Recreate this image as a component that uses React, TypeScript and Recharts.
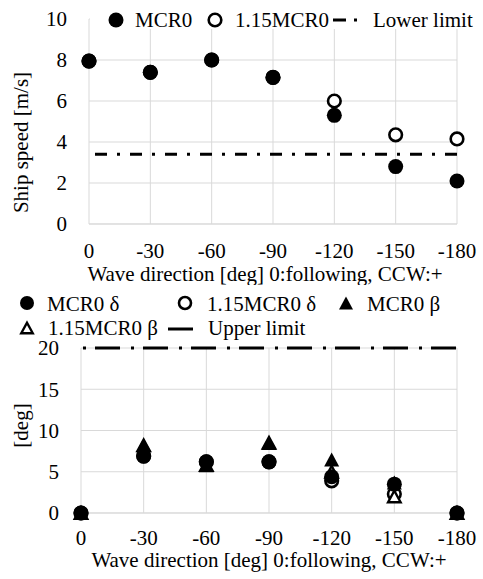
import React from "react";
import { ScatterChart, Scatter, XAxis, YAxis, CartesianGrid, ReferenceLine, Legend } from "recharts";

// wave directions (deg), shared by both panels
const directions = [0, -30, -60, -90, -120, -150, -180];

// ship speed [m/s]
const speedMcr0 = [7.95, 7.4, 8.0, 7.15, 5.3, 2.8, 2.1];
const speedMcr115 = [7.95, 7.4, 8.0, 7.15, 6.0, 4.35, 4.15];
const lowerLimit = 3.4;
const speedTicks = [0, 2, 4, 6, 8, 10];

// rudder angle delta / drift angle beta [deg]
const deltaMcr0 = [0, 6.9, 6.2, 6.2, 4.4, 3.5, 0];
const deltaMcr115 = [0, 6.9, 6.2, 6.2, 3.9, 2.3, 0];
const betaMcr0 = [0, 8.2, 5.8, 8.5, 6.5, 3.7, 0];
const betaMcr115 = [0, 8.2, 5.8, 8.5, 5.0, 2.0, 0];
const upperLimit = 20;
const angleTicks = [0, 5, 10, 15, 20];

const xTitle = "Wave direction [deg] 0:following, CCW:+";

const FONT = "Liberation Serif, Times New Roman, serif";
const GRID = "#d9d9d9";
const textStyle = { fill: "#000", fontSize: 21, fontFamily: FONT };

const speedData = directions.map((dir, i) => ({ dir, mcr0: speedMcr0[i], mcr115: speedMcr115[i] }));
const angleData = directions.map((dir, i) => ({
  dir,
  dMcr0: deltaMcr0[i],
  dMcr115: deltaMcr115[i],
  bMcr0: betaMcr0[i],
  bMcr115: betaMcr115[i],
}));

const FilledCircle = (p: any) => <circle cx={p.cx} cy={p.cy} r={7.5} fill="#000" />;
const OpenCircle = (p: any) => <circle cx={p.cx} cy={p.cy} r={6.3} fill="#fff" stroke="#000" strokeWidth={2.6} />;
const triPoints = (cx: number, cy: number, w: number, h: number) =>
  `${cx},${cy - h / 2} ${cx + w / 2},${cy + h / 2} ${cx - w / 2},${cy + h / 2}`;
const FilledTriangle = (p: any) => <polygon points={triPoints(p.cx, p.cy, 15, 14)} fill="#000" />;
const OpenTriangle = (p: any) => (
  <polygon points={triPoints(p.cx, p.cy, 12.5, 11.5)} fill="#fff" stroke="#000" strokeWidth={2.4} />
);

const legendText = { fontSize: 21, fontFamily: FONT, fill: "#000" };

// legend sits over the top of the plot on a white box, like the original
const SpeedLegend = () => (
  <svg width={393} height={34} style={{ display: "block", overflow: "visible" }}>
    <rect width={393} height={29} fill="#fff" />
    <circle cx={26} cy={20} r={7.5} fill="#000" />
    <text x={45} y={27} {...legendText}>MCR0</text>
    <circle cx={125} cy={20} r={6.3} fill="#fff" stroke="#000" strokeWidth={2.6} />
    <text x={145} y={27} {...legendText}>1.15MCR0</text>
    <line x1={243} x2={270} y1={20} y2={20} stroke="#000" strokeWidth={3} strokeDasharray="13 8 3 10" />
    <text x={283} y={27} {...legendText}>Lower limit</text>
  </svg>
);

const AngleLegend = () => (
  <svg width={483} height={58} style={{ display: "block", overflow: "visible" }}>
    <circle cx={27} cy={18} r={7} fill="#000" />
    <text x={47} y={26} {...legendText}>MCR0 δ</text>
    <circle cx={185} cy={18} r={6} fill="#fff" stroke="#000" strokeWidth={2.6} />
    <text x={207} y={26} {...legendText}>1.15MCR0 δ</text>
    <polygon points={triPoints(346, 18, 14, 13)} fill="#000" />
    <text x={367} y={26} {...legendText}>MCR0 β</text>
    <polygon points={triPoints(27, 43, 11.5, 10.5)} fill="#fff" stroke="#000" strokeWidth={2.4} />
    <text x={48} y={50} {...legendText}>1.15MCR0 β</text>
    <line x1={168} x2={193} y1={44} y2={44} stroke="#000" strokeWidth={3} />
    <text x={208} y={50} {...legendText}>Upper limit</text>
  </svg>
);

export default function App() {
  return (
    <div style={{ position: "absolute", left: 0, top: 0, width: 483, height: 579, background: "#fff" }}>
      <div style={{ position: "absolute", left: 0, top: 0 }}>
        <ScatterChart width={483} height={285} margin={{ top: 19, right: 26, left: 0, bottom: 1 }}>
          <CartesianGrid stroke={GRID} />
          <XAxis
            type="number"
            dataKey="dir"
            domain={[-180, 0]}
            reversed
            ticks={directions}
            interval={0}
            axisLine={{ stroke: GRID }}
            tickLine={false}
            tickSize={0}
            tickMargin={19}
            height={60}
            tick={textStyle}
            label={{ value: xTitle, position: "insideBottom", offset: 3, dx: -8, style: textStyle }}
          />
          <YAxis
            type="number"
            domain={[0, 10]}
            ticks={speedTicks}
            interval={0}
            width={89}
            axisLine={false}
            tickLine={false}
            tickSize={0}
            tickMargin={22}
            tick={textStyle}
            label={{
              value: "Ship speed [m/s]",
              angle: -90,
              position: "insideLeft",
              offset: 21,
              dy: 21,
              style: { ...textStyle, textAnchor: "middle" },
            }}
          />
          <ReferenceLine y={lowerLimit} stroke="#000" strokeWidth={3} strokeDasharray="12 10 3 10" strokeDashoffset={29} />
          <Scatter name="1.15MCR0" data={speedData} dataKey="mcr115" shape={OpenCircle} isAnimationActive={false} />
          <Scatter name="MCR0" data={speedData} dataKey="mcr0" shape={FilledCircle} isAnimationActive={false} />
          <Legend
            verticalAlign="middle"
            align="center"
            content={SpeedLegend}
            wrapperStyle={{ top: 0, left: 90, width: 393, height: 34, lineHeight: 0 }}
          />
        </ScatterChart>
      </div>
      <div style={{ position: "absolute", left: 0, top: 285 }}>
        <ScatterChart width={483} height={294} margin={{ top: 63, right: 26, left: 0, bottom: 6 }}>
          <CartesianGrid stroke={GRID} />
          <XAxis
            type="number"
            dataKey="dir"
            domain={[-180, 0]}
            reversed
            ticks={directions}
            interval={0}
            axisLine={{ stroke: GRID }}
            tickLine={false}
            tickSize={0}
            tickMargin={17}
            height={60}
            tick={textStyle}
            label={{ value: xTitle, position: "insideBottom", offset: 6, style: textStyle }}
          />
          <YAxis
            type="number"
            domain={[0, 20]}
            ticks={angleTicks}
            interval={0}
            width={81}
            axisLine={false}
            tickLine={false}
            tickSize={0}
            tickMargin={22}
            tick={textStyle}
            label={{
              value: "[deg]",
              angle: -90,
              position: "insideLeft",
              offset: 21,
              dy: -5,
              style: { ...textStyle, textAnchor: "middle" },
            }}
          />
          <ReferenceLine y={upperLimit} stroke="#000" strokeWidth={3} strokeDasharray="25 11 3 9" strokeDashoffset={34} />
          <Scatter name="1.15MCR0 δ" data={angleData} dataKey="dMcr115" shape={OpenCircle} isAnimationActive={false} />
          <Scatter name="1.15MCR0 β" data={angleData} dataKey="bMcr115" shape={OpenTriangle} isAnimationActive={false} />
          <Scatter name="MCR0 β" data={angleData} dataKey="bMcr0" shape={FilledTriangle} isAnimationActive={false} />
          <Scatter name="MCR0 δ" data={angleData} dataKey="dMcr0" shape={FilledCircle} isAnimationActive={false} />
          <Legend
            verticalAlign="middle"
            align="center"
            content={AngleLegend}
            wrapperStyle={{ top: 0, left: 0, width: 483, height: 58, lineHeight: 0 }}
          />
        </ScatterChart>
      </div>
    </div>
  );
}
